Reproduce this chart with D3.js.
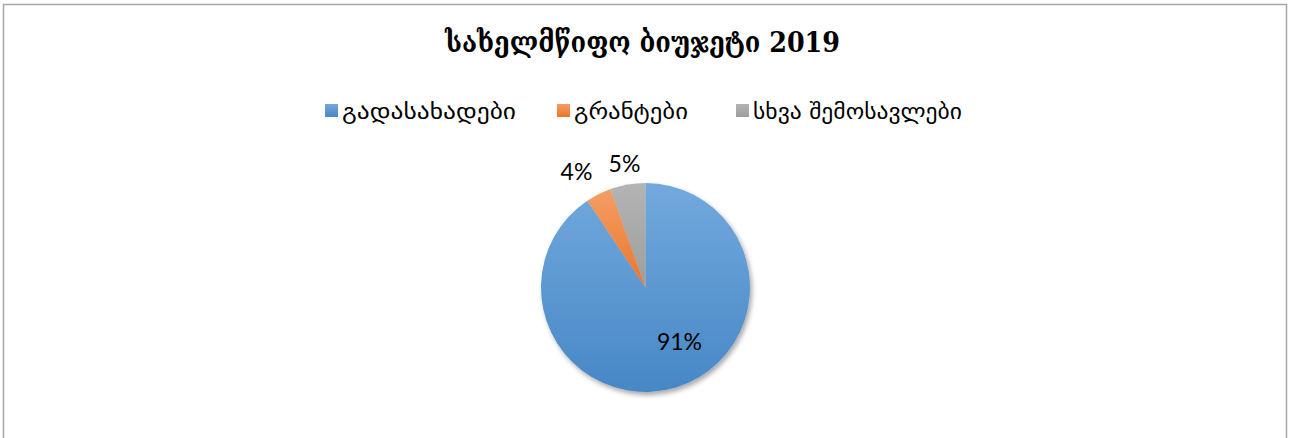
<!DOCTYPE html>
<html>
<head>
<meta charset="utf-8">
<script src="https://cdn.jsdelivr.net/npm/d3@7"></script>
<style>
  html, body { margin: 0; padding: 0; background: #fff; }
  svg { display: block; }
</style>
</head>
<body>
<svg id="chart" width="1294" height="438"></svg>
<script>
// Budget revenue structure, 2019 (shares in percent)
const categories = ["გადასახადები", "გრანტები", "სხვა შემოსავლები"];
const shares = [90.6, 3.95, 5.45];
const chartTitle = "სახელმწიფო ბიუჯეტი 2019";

// Gradient stops per category (light top -> darker bottom)
const fillTop = ["#72a9dd", "#f39e66", "#b4b4b4"];
const fillBottom = ["#4787c6", "#ea7629", "#9d9d9d"];

const svg = d3.select("#chart");

const defs = svg.append("defs");
categories.forEach((c, i) => {
  const g = defs.append("linearGradient")
    .attr("id", "grad" + i)
    .attr("x1", 0).attr("y1", 0).attr("x2", 0).attr("y2", 1);
  g.append("stop").attr("offset", "0%").attr("stop-color", fillTop[i]);
  g.append("stop").attr("offset", "100%").attr("stop-color", fillBottom[i]);
});
const shadow = defs.append("filter").attr("id", "pieShadow")
  .attr("x", "-20%").attr("y", "-20%").attr("width", "140%").attr("height", "140%");
shadow.append("feDropShadow")
  .attr("dx", 2).attr("dy", 3).attr("stdDeviation", 2.5)
  .attr("flood-color", "#000").attr("flood-opacity", 0.35);

// Chart area frame
svg.append("rect")
  .attr("x", 3.5).attr("y", 4.5)
  .attr("width", 1283).attr("height", 460)
  .attr("fill", "#fff")
  .attr("stroke", "#a6a6a6").attr("stroke-width", 1.5);

// Title
svg.append("text")
  .attr("x", 445).attr("y", 52)
  .attr("font-family", "'DejaVu Serif', serif")
  .attr("font-weight", "bold")
  .attr("font-size", 28)
  .attr("fill", "#000")
  .attr("textLength", 395)
  .attr("lengthAdjust", "spacingAndGlyphs")
  .text(chartTitle);

// Legend
const legendX = [325, 557, 736];
const legendW = [174, 114, 209];
const legend = svg.append("g");
categories.forEach((c, i) => {
  legend.append("rect")
    .attr("x", legendX[i]).attr("y", 104)
    .attr("width", 13).attr("height", 13)
    .attr("fill", `url(#grad${i})`);
  legend.append("text")
    .attr("x", legendX[i] + 17).attr("y", 119)
    .attr("font-family", "'DejaVu Sans', sans-serif")
    .attr("font-size", 21)
    .attr("fill", "#000")
    .attr("textLength", legendW[i])
    .attr("lengthAdjust", "spacingAndGlyphs")
    .text(c);
});

// Pie
const cx = 645.5, cy = 287.5, R = 104.5;
const pie = d3.pie().sort(null).value(d => d).startAngle(0).endAngle(2 * Math.PI);
const arcs = pie(shares);
const arc = d3.arc().innerRadius(0).outerRadius(R);
const total = d3.sum(shares);
const pct = d3.format(".0%");

const pieG = svg.append("g").attr("transform", `translate(${cx},${cy})`);
pieG.append("g").attr("filter", "url(#pieShadow)")
  .selectAll("path")
  .data(arcs)
  .join("path")
  .attr("d", arc)
  .attr("fill", (d, i) => `url(#grad${i})`);

// Data labels: the large slice is labelled inside, the narrow ones outside
const labelOffset = [[34, 62], [-69, -108], [-21, -116]];
pieG.selectAll("text.lbl")
  .data(arcs)
  .join("text")
  .attr("class", "lbl")
  .attr("x", (d, i) => labelOffset[i][0])
  .attr("y", (d, i) => labelOffset[i][1])
  .attr("text-anchor", "middle")
  .attr("font-family", "Lato, 'Liberation Sans', sans-serif")
  .attr("font-size", 23)
  .attr("fill", "#000")
  .text(d => pct(d.value / total));
</script>
</body>
</html>
